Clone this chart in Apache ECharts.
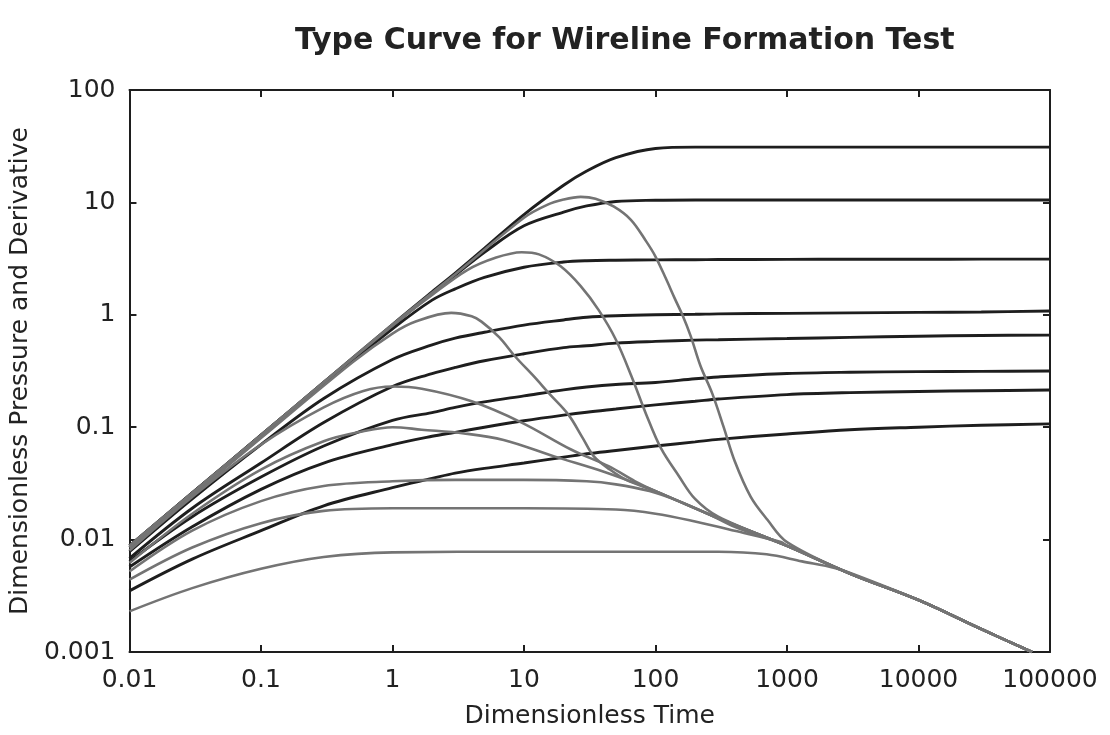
<!DOCTYPE html>
<html>
<head>
<meta charset="utf-8">
<title>Type Curve for Wireline Formation Test</title>
<script src="https://cdn.jsdelivr.net/npm/echarts@6/dist/echarts.min.js"></script>
<style>
  html, body { margin: 0; padding: 0; background: #fff; }
  #chart { width: 1110px; height: 735px; }
</style>
</head>
<body>
<div id="chart"></div>
<script>
// tick labels
const xTickLabels = ['0.01', '0.1', '1', '10', '100', '1000', '10000', '100000']
const yTickLabels = ['0.001', '0.01', '0.1', '1', '10', '100']

// dimensionless time grid for the pressure curves (black)
const pressTime = [0.01, 0.03, 0.1, 0.3, 1, 2, 3, 5, 10, 20, 30, 50, 100, 200, 300, 1000, 3000, 10000, 30000, 100000]
const press1 = [0.0088, 0.026, 0.085, 0.25, 0.82, 1.6, 2.35, 3.9, 7.8, 14.2, 19, 25, 30.2, 31, 31, 31, 31, 31, 31, 31]
const press2 = [0.0088, 0.026, 0.085, 0.25, 0.8, 1.55, 2.25, 3.6, 6.2, 8.2, 9.3, 10.2, 10.45, 10.5, 10.5, 10.5, 10.5, 10.5, 10.5, 10.5]
const press3 = [0.0085, 0.025, 0.082, 0.24, 0.75, 1.35, 1.7, 2.15, 2.65, 2.95, 3.03, 3.06, 3.08, 3.09, 3.1, 3.11, 3.12, 3.12, 3.13, 3.13]
const press4 = [0.0078, 0.023, 0.07, 0.18, 0.4, 0.54, 0.62, 0.7, 0.81, 0.9, 0.95, 0.98, 1.0, 1.01, 1.02, 1.03, 1.04, 1.05, 1.06, 1.08]
const press5 = [0.0068, 0.019, 0.048, 0.11, 0.23, 0.3, 0.34, 0.39, 0.45, 0.51, 0.53, 0.56, 0.58, 0.595, 0.6, 0.615, 0.63, 0.645, 0.655, 0.66]
const press6 = [0.0064, 0.016, 0.036, 0.068, 0.115, 0.135, 0.15, 0.168, 0.19, 0.215, 0.228, 0.24, 0.25, 0.27, 0.28, 0.3, 0.308, 0.312, 0.314, 0.316]
const press7 = [0.0057, 0.013, 0.028, 0.048, 0.07, 0.083, 0.09, 0.1, 0.114, 0.128, 0.136, 0.145, 0.158, 0.17, 0.178, 0.195, 0.203, 0.208, 0.211, 0.214]
const press8 = [0.0035, 0.0067, 0.012, 0.02, 0.029, 0.035, 0.039, 0.043, 0.048, 0.054, 0.058, 0.062, 0.068, 0.074, 0.078, 0.087, 0.095, 0.1, 0.104, 0.107]

// derivative curves (gray), each with its own time points
const der1Time = [0.01, 0.1, 1, 3, 10, 15, 20, 27, 35, 48, 65, 85, 100, 120, 140, 160, 185, 220, 270, 330, 400, 530, 710, 1000]
const der1 = [0.0088, 0.085, 0.82, 2.3, 7.3, 9.5, 10.6, 11.2, 10.8, 9.2, 7.0, 4.5, 3.3, 2.1, 1.4, 1.0, 0.65, 0.35, 0.2, 0.1, 0.05, 0.024, 0.015, 0.0095]
const der2Time = [0.01, 0.1, 1, 2, 3.7, 6, 9.6, 13, 19, 27, 37, 50, 66, 85, 110, 150, 200, 300]
const der2 = [0.0088, 0.085, 0.8, 1.5, 2.5, 3.2, 3.6, 3.45, 2.7, 1.8, 1.1, 0.6, 0.28, 0.13, 0.065, 0.037, 0.023, 0.016]
const der3Time = [0.01, 0.1, 0.5, 1, 1.5, 2.8, 4, 4.75, 6.5, 8.5, 12, 15.5, 21.7, 28, 34, 45, 60]
const der3 = [0.0085, 0.08, 0.38, 0.68, 0.87, 1.04, 0.97, 0.87, 0.63, 0.43, 0.28, 0.2, 0.13, 0.08, 0.055, 0.042, 0.034]
const der4Time = [0.01, 0.03, 0.1, 0.3, 0.6, 1, 1.67, 4, 9.6, 23, 44, 70]
const der4 = [0.008, 0.024, 0.07, 0.15, 0.21, 0.23, 0.22, 0.17, 0.11, 0.063, 0.045, 0.033]
const der5Time = [0.01, 0.03, 0.1, 0.3, 0.6, 1, 1.67, 3.5, 7, 17, 41, 80]
const der5 = [0.0062, 0.017, 0.042, 0.075, 0.092, 0.1, 0.095, 0.088, 0.077, 0.055, 0.04, 0.03]
const der6Time = [0.01, 0.03, 0.1, 0.3, 1, 3, 10, 30, 50, 90, 150, 250, 400]
const der6 = [0.0052, 0.012, 0.022, 0.03, 0.033, 0.034, 0.034, 0.033, 0.031, 0.027, 0.022, 0.017, 0.013]
const der7Time = [0.01, 0.03, 0.1, 0.3, 1, 10, 50, 100, 200, 400, 900]
const der7 = [0.0044, 0.0085, 0.014, 0.018, 0.019, 0.019, 0.0185, 0.017, 0.0145, 0.012, 0.0095]
const der8Time = [0.01, 0.03, 0.1, 0.3, 1, 10, 100, 300, 700, 1300, 2300, 3100]
const der8 = [0.0023, 0.0037, 0.0055, 0.007, 0.0077, 0.0078, 0.0078, 0.0078, 0.0074, 0.0064, 0.0056, 0.005]

// common late-time derivative line that all gray curves fall onto
const lateTime = [100, 300, 1000, 3000, 10000, 30000, 73000]
const lateDer = [0.027, 0.0155, 0.0088, 0.005, 0.0029, 0.0016, 0.001]

const FONT = 'DejaVu Sans'
const BLACK = '#1e1e1e'
const GRAY = '#747474'

const pairs = (ts, vs) => ts.map((t, i) => [t, vs[i]])

const withLate = (ts, vs) => {
  const last = ts[ts.length - 1]
  const tail = lateTime.map((t, i) => [t, lateDer[i]]).filter(p => p[0] > last)
  return pairs(ts, vs).concat(tail)
}

const lineSeries = (data, color, width) => ({
  type: 'line',
  data: data,
  showSymbol: false,
  smooth: 0.35,
  lineStyle: { color: color, width: width },
  silent: true
})

const pressures = [press1, press2, press3, press4, press5, press6, press7, press8]
const derivs = [
  [der1Time, der1], [der2Time, der2], [der3Time, der3], [der4Time, der4],
  [der5Time, der5], [der6Time, der6], [der7Time, der7], [der8Time, der8]
]

const series = []
pressures.forEach(p => series.push(lineSeries(pairs(pressTime, p), BLACK, 2.9)))
derivs.forEach(d => series.push(lineSeries(withLate(d[0], d[1]), GRAY, 2.6)))

const axisCommon = {
  type: 'log',
  logBase: 10,
  axisLine: { onZero: false, lineStyle: { color: BLACK, width: 2 } },
  axisTick: { inside: true, length: 7, lineStyle: { color: BLACK, width: 2 } },
  splitLine: { show: false },
  minorTick: { show: false }
}

const chart = echarts.init(document.getElementById('chart'))

chart.setOption({
  animation: false,
  backgroundColor: '#fff',
  title: {
    text: 'Type Curve for Wireline Formation Test',
    left: 290,
    top: 21,
    textStyle: { fontFamily: FONT, fontSize: 30, fontWeight: 'bold', color: '#222' }
  },
  grid: { left: 127, right: 60, top: 90, bottom: 83 },
  xAxis: [
    Object.assign({}, axisCommon, {
      position: 'bottom',
      min: 0.01,
      max: 100000,
      splitNumber: 7,
      name: 'Dimensionless Time',
      nameLocation: 'middle',
      nameGap: 52,
      nameTextStyle: { fontFamily: FONT, fontSize: 25, color: '#222' },
      axisLabel: {
        fontFamily: FONT, fontSize: 25, color: '#222', margin: 16,
        formatter: v => xTickLabels[Math.round(Math.log10(v)) + 2]
      }
    }),
    Object.assign({}, axisCommon, {
      position: 'top',
      min: 0.01,
      max: 100000,
      splitNumber: 7,
      axisLabel: { show: false }
    })
  ],
  yAxis: [
    Object.assign({}, axisCommon, {
      position: 'left',
      min: 0.001,
      max: 100,
      splitNumber: 5,
      name: 'Dimensionless Pressure and Derivative',
      nameLocation: 'middle',
      nameGap: 88,
      nameTextStyle: { fontFamily: FONT, fontSize: 25, color: '#222' },
      axisLabel: {
        fontFamily: FONT, fontSize: 25, color: '#222', margin: 14,
        formatter: v => yTickLabels[Math.round(Math.log10(v)) + 3]
      }
    }),
    Object.assign({}, axisCommon, {
      position: 'right',
      min: 0.001,
      max: 100,
      splitNumber: 5,
      axisLabel: { show: false }
    })
  ],
  series: series
})
</script>
</body>
</html>
